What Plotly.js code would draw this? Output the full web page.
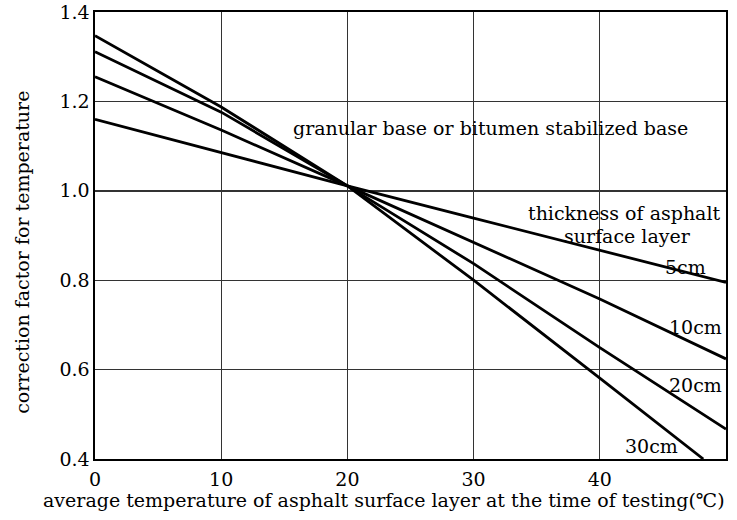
<!DOCTYPE html>
<html>
<head>
<meta charset="utf-8">
<script src="https://cdn.plot.ly/plotly-3.0.1.min.js"></script>
<style>html,body{margin:0;padding:0;background:#fff;}#chart{width:737px;height:520px;}</style>
</head>
<body>
<div id="chart"></div>
<script>
const temps = [0, 10, 20, 30, 40, 50];
const cf5 = [1.160, 1.086, 1.011, 0.939, 0.867, 0.795];
const cf10 = [1.255, 1.136, 1.011, 0.885, 0.758, 0.624];
const cf20 = [1.311, 1.176, 1.011, 0.837, 0.649, 0.467];
const temps30 = [0, 10, 20, 30, 40, 48.2];
const cf30 = [1.347, 1.1875, 1.011, 0.800, 0.581, 0.400];
const xTicks = [0, 10, 20, 30, 40, 50];
const yTicks = [0.4, 0.6, 0.8, 1.0, 1.2, 1.4];
const yTickText = ['0.4', '0.6', '0.8', '1.0', '1.2', '1.4'];
const labels = ['5cm', '10cm', '20cm', '30cm'];
const xTitle = 'average temperature of asphalt surface layer at the time of testing(℃)';
const yTitle = 'correction factor for temperature';

const FONT = 'DejaVu Serif, serif';
const lineStyle = {color: '#000', width: 2.8};
const traces = [
  {x: temps, y: cf5, name: labels[0]},
  {x: temps, y: cf10, name: labels[1]},
  {x: temps, y: cf20, name: labels[2]},
  {x: temps30, y: cf30, name: labels[3]}
].map(t => Object.assign(t, {type: 'scatter', mode: 'lines', line: lineStyle, showlegend: false, hoverinfo: 'skip'}));

const ann = (text, x, y, xanchor) => ({text, x, y, xref: 'x', yref: 'y', showarrow: false, xanchor: xanchor || 'center', yanchor: 'middle', font: {family: FONT, size: 19, color: '#000'}, bgcolor: 'rgba(0,0,0,0)'});

const layout = {
  width: 737, height: 520,
  margin: {l: 95, r: 11, t: 12, b: 61},
  paper_bgcolor: '#fff', plot_bgcolor: '#fff',
  font: {family: FONT, color: '#000', size: 19},
  xaxis: {
    range: [0, 50], tickvals: xTicks, ticktext: xTicks.map(String),
    showgrid: true, gridcolor: '#333', gridwidth: 1.4,
    showline: true, linecolor: '#000', linewidth: 1.6, mirror: true,
    ticks: '', zeroline: false, ticklen: 0, ticklabelstandoff: 3,
    tickfont: {family: FONT, size: 19, color: '#000'}
  },
  yaxis: {
    range: [0.4, 1.4], tickvals: yTicks, ticktext: yTickText,
    showgrid: true, gridcolor: '#333', gridwidth: 1.4,
    showline: true, linecolor: '#000', linewidth: 1.6, mirror: true,
    ticks: '', zeroline: false,
    tickfont: {family: FONT, size: 19, color: '#000'}
  },
  annotations: [
    {text: xTitle, xref: 'paper', yref: 'paper', x: 0.458, y: -0.092, xanchor: 'center', yanchor: 'middle', showarrow: false, font: {family: FONT, size: 19, color: '#000'}},
    {text: yTitle, xref: 'paper', yref: 'paper', x: -0.116, y: 0.463, xanchor: 'center', yanchor: 'middle', textangle: -90, showarrow: false, font: {family: FONT, size: 19, color: '#000'}},
    ann('granular base or bitumen stabilized base', 31.3, 1.14),
    ann('thickness of asphalt', 49.8, 0.95, 'right'),
    ann('surface layer', 42.2, 0.899),
    ann(labels[0], 46.8, 0.83),
    ann(labels[1], 47.6, 0.695),
    ann(labels[2], 47.6, 0.566),
    ann(labels[3], 44.1, 0.429)
  ]
};

Plotly.newPlot('chart', traces, layout, {displayModeBar: false, staticPlot: true});
</script>
</body>
</html>
